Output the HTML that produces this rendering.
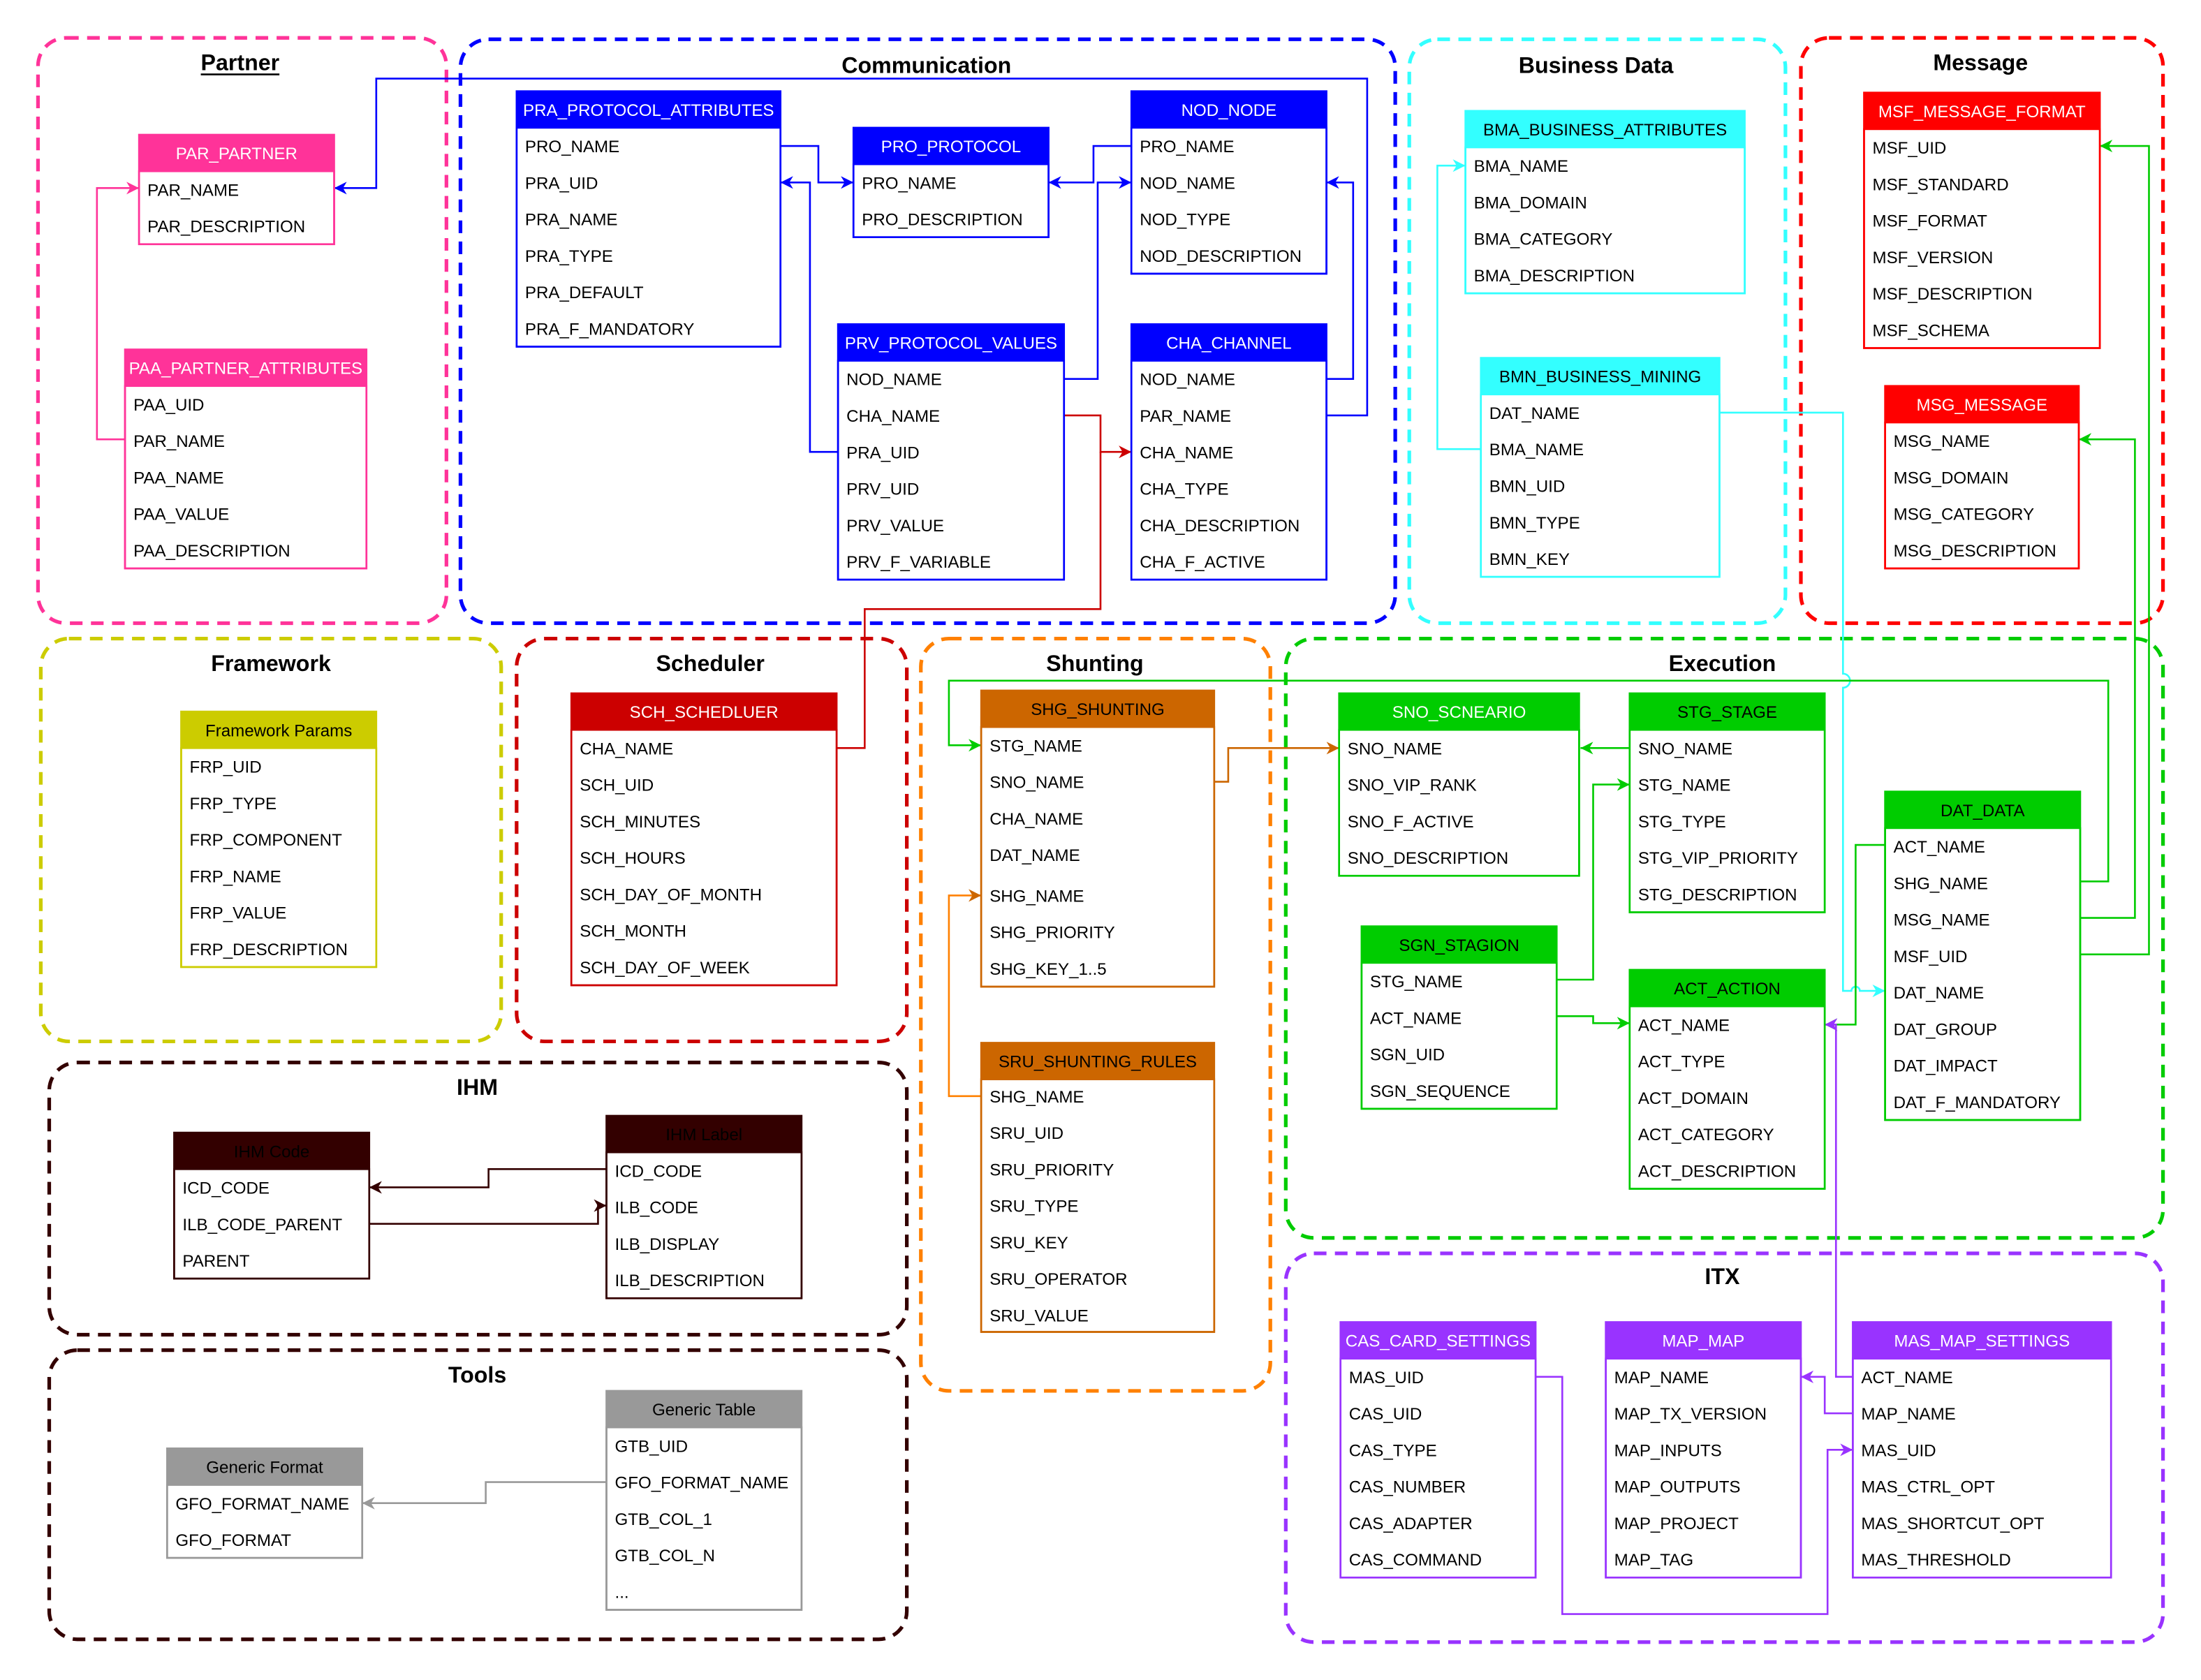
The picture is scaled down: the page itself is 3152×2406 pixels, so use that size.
<!DOCTYPE html>
<html><head><meta charset="utf-8"><style>
html,body{margin:0;padding:0;background:#fff;}
svg{display:block;}
text{font-family:"Liberation Sans",Arial,sans-serif;font-size:12px;fill:#000;}
.t{font-weight:bold;font-size:16px;text-anchor:middle;}
.h{text-anchor:middle;}
.w{fill:#fff;}
.g{fill:none;stroke-width:2.6;stroke-dasharray:9 6;}
.c{fill:none;stroke-width:1.3;}
</style></head><body>
<svg width="3152" height="2406" viewBox="0 0 1568 1197" xmlns="http://www.w3.org/2000/svg">
<defs>
<marker id="mPink" viewBox="0 0 10 10" refX="10" refY="5" markerWidth="9" markerHeight="9" orient="auto" markerUnits="userSpaceOnUse"><path d="M0,0 L10,5 L0,10 L3,5z" fill="#ff3399"/></marker>
<marker id="mBlue" viewBox="0 0 10 10" refX="10" refY="5" markerWidth="9" markerHeight="9" orient="auto" markerUnits="userSpaceOnUse"><path d="M0,0 L10,5 L0,10 L3,5z" fill="#0000ff"/></marker>
<marker id="mRed" viewBox="0 0 10 10" refX="10" refY="5" markerWidth="9" markerHeight="9" orient="auto" markerUnits="userSpaceOnUse"><path d="M0,0 L10,5 L0,10 L3,5z" fill="#cc0000"/></marker>
<marker id="mCyan" viewBox="0 0 10 10" refX="10" refY="5" markerWidth="9" markerHeight="9" orient="auto" markerUnits="userSpaceOnUse"><path d="M0,0 L10,5 L0,10 L3,5z" fill="#33ffff"/></marker>
<marker id="mGreen" viewBox="0 0 10 10" refX="10" refY="5" markerWidth="9" markerHeight="9" orient="auto" markerUnits="userSpaceOnUse"><path d="M0,0 L10,5 L0,10 L3,5z" fill="#00cc00"/></marker>
<marker id="mOrange" viewBox="0 0 10 10" refX="10" refY="5" markerWidth="9" markerHeight="9" orient="auto" markerUnits="userSpaceOnUse"><path d="M0,0 L10,5 L0,10 L3,5z" fill="#cc6600"/></marker>
<marker id="mPurple" viewBox="0 0 10 10" refX="10" refY="5" markerWidth="9" markerHeight="9" orient="auto" markerUnits="userSpaceOnUse"><path d="M0,0 L10,5 L0,10 L3,5z" fill="#9933ff"/></marker>
<marker id="mDark" viewBox="0 0 10 10" refX="10" refY="5" markerWidth="9" markerHeight="9" orient="auto" markerUnits="userSpaceOnUse"><path d="M0,0 L10,5 L0,10 L3,5z" fill="#330000"/></marker>
<marker id="mGray" viewBox="0 0 10 10" refX="10" refY="5" markerWidth="9" markerHeight="9" orient="auto" markerUnits="userSpaceOnUse"><path d="M0,0 L10,5 L0,10 L3,5z" fill="#999999"/></marker>
</defs>

<!-- Groups -->
<rect class="g" x="27" y="27" width="291" height="417" rx="20" stroke="#ff3399"/>
<rect class="g" x="328" y="28" width="666" height="416" rx="20" stroke="#0000ff"/>
<rect class="g" x="1004" y="28" width="268" height="416" rx="20" stroke="#33ffff"/>
<rect class="g" x="1283" y="27" width="258" height="417" rx="20" stroke="#ff0000"/>
<rect class="g" x="29" y="455" width="328" height="287" rx="20" stroke="#cccc00"/>
<rect class="g" x="368" y="455" width="278" height="287" rx="20" stroke="#cc0000"/>
<rect class="g" x="656" y="455" width="249" height="536" rx="20" stroke="#ff8000"/>
<rect class="g" x="916" y="455" width="625" height="427" rx="20" stroke="#00cc00"/>
<rect class="g" x="35" y="757" width="611" height="194" rx="20" stroke="#330000"/>
<rect class="g" x="35" y="962" width="611" height="206" rx="20" stroke="#330000"/>
<rect class="g" x="916" y="893" width="625" height="277" rx="20" stroke="#9933ff"/>

<text class="t" x="171" y="50">Partner</text>
<line x1="143" y1="53" x2="199" y2="53" stroke="#000" stroke-width="1.3"/>
<text class="t" x="660" y="52">Communication</text>
<text class="t" x="1137" y="52">Business Data</text>
<text class="t" x="1411" y="50">Message</text>
<text class="t" x="193" y="478">Framework</text>
<text class="t" x="506" y="478">Scheduler</text>
<text class="t" x="780" y="478">Shunting</text>
<text class="t" x="1227" y="478">Execution</text>
<text class="t" x="340" y="780">IHM</text>
<text class="t" x="340" y="985">Tools</text>
<text class="t" x="1227" y="915">ITX</text>

<!-- Connectors -->
<g class="c">
<path d="M89,313 H69 V134 H99" stroke="#ff3399" marker-end="url(#mPink)"/>
<path d="M945,296 H974 V56 H268 V134 H238" stroke="#0000ff" marker-end="url(#mBlue)"/>
<path d="M556,104 H583 V130 H608" stroke="#0000ff" marker-end="url(#mBlue)"/>
<path d="M806,104 H779 V130 H747" stroke="#0000ff" marker-end="url(#mBlue)"/>
<path d="M597,322 H577 V130 H556" stroke="#0000ff" marker-end="url(#mBlue)"/>
<path d="M758,270 H782 V130 H806" stroke="#0000ff" marker-end="url(#mBlue)"/>
<path d="M945,270 H964 V130 H945" stroke="#0000ff" marker-end="url(#mBlue)"/>
<path d="M758,296 H784 V322 H806" stroke="#cc0000" marker-end="url(#mRed)"/>
<path d="M596,533 H616 V434 H784 V322" stroke="#cc0000"/>
<path d="M1055,320 H1024 V118 H1044" stroke="#33ffff" marker-end="url(#mCyan)"/>
<path d="M1225,294 H1313 V480 a5,5 0 0 1 0,10 V706 H1319 a3,3 0 0 1 6,0 H1343" stroke="#33ffff" marker-end="url(#mCyan)"/>
<path d="M1482,628 H1502 V485 H676 V531 H699" stroke="#00cc00" marker-end="url(#mGreen)"/>
<path d="M1482,654 H1521 V313 H1481" stroke="#00cc00" marker-end="url(#mGreen)"/>
<path d="M1482,680 H1531 V104 H1496" stroke="#00cc00" marker-end="url(#mGreen)"/>
<path d="M1343,602 H1322 V730 H1300" stroke="#00cc00" marker-end="url(#mGreen)"/>
<path d="M1161,533 H1126" stroke="#00cc00" marker-end="url(#mGreen)"/>
<path d="M1109,698 H1135 V559 H1161" stroke="#00cc00" marker-end="url(#mGreen)"/>
<path d="M1109,724 H1135 V729 H1161" stroke="#00cc00" marker-end="url(#mGreen)"/>
<path d="M865,557 H875 V533 H954" stroke="#cc6600" marker-end="url(#mOrange)"/>
<path d="M699,781 H676 V638 H699" stroke="#ff8000" marker-end="url(#mOrange)"/>
<path d="M1320,981 H1308 V730 H1300" stroke="#9933ff" marker-end="url(#mPurple)"/>
<path d="M1320,1007 H1300 V981 H1283" stroke="#9933ff" marker-end="url(#mPurple)"/>
<path d="M1094,981 H1113 V1150 H1302 V1033 H1320" stroke="#9933ff" marker-end="url(#mPurple)"/>
<path d="M432,833 H348 V846 H263" stroke="#330000" marker-end="url(#mDark)"/>
<path d="M263,872 H426 V859 H432" stroke="#330000" marker-end="url(#mDark)"/>
<path d="M432,1056 H346 V1071 H258" stroke="#999999" marker-end="url(#mGray)"/>
</g>

<!-- Tables -->
<g transform="translate(99,96)"><rect width="139" height="26" fill="#ff3399"/><rect y="26" width="139" height="52" fill="#fff" stroke="#ff3399" stroke-width="1.3"/><rect width="139" height="78" fill="none" stroke="#ff3399" stroke-width="1.3"/>
<text class="h w" x="69.5" y="17.5">PAR_PARTNER</text>
<text x="6" y="43.5">PAR_NAME</text><text x="6" y="69.5">PAR_DESCRIPTION</text></g>
<g transform="translate(89,249)"><rect width="172" height="26" fill="#ff3399"/><rect y="26" width="172" height="130" fill="#fff" stroke="#ff3399" stroke-width="1.3"/><rect width="172" height="156" fill="none" stroke="#ff3399" stroke-width="1.3"/>
<text class="h w" x="86" y="17.5">PAA_PARTNER_ATTRIBUTES</text>
<text x="6" y="43.5">PAA_UID</text><text x="6" y="69.5">PAR_NAME</text><text x="6" y="95.5">PAA_NAME</text><text x="6" y="121.5">PAA_VALUE</text><text x="6" y="147.5">PAA_DESCRIPTION</text></g>

<g transform="translate(368,65)"><rect width="188" height="26" fill="#0000ff"/><rect y="26" width="188" height="156" fill="#fff" stroke="#0000ff" stroke-width="1.3"/><rect width="188" height="182" fill="none" stroke="#0000ff" stroke-width="1.3"/>
<text class="h w" x="94" y="17.5">PRA_PROTOCOL_ATTRIBUTES</text>
<text x="6" y="43.5">PRO_NAME</text><text x="6" y="69.5">PRA_UID</text><text x="6" y="95.5">PRA_NAME</text><text x="6" y="121.5">PRA_TYPE</text><text x="6" y="147.5">PRA_DEFAULT</text><text x="6" y="173.5">PRA_F_MANDATORY</text></g>
<g transform="translate(608,91)"><rect width="139" height="26" fill="#0000ff"/><rect y="26" width="139" height="52" fill="#fff" stroke="#0000ff" stroke-width="1.3"/><rect width="139" height="78" fill="none" stroke="#0000ff" stroke-width="1.3"/>
<text class="h w" x="69.5" y="17.5">PRO_PROTOCOL</text>
<text x="6" y="43.5">PRO_NAME</text><text x="6" y="69.5">PRO_DESCRIPTION</text></g>
<g transform="translate(806,65)"><rect width="139" height="26" fill="#0000ff"/><rect y="26" width="139" height="104" fill="#fff" stroke="#0000ff" stroke-width="1.3"/><rect width="139" height="130" fill="none" stroke="#0000ff" stroke-width="1.3"/>
<text class="h w" x="69.5" y="17.5">NOD_NODE</text>
<text x="6" y="43.5">PRO_NAME</text><text x="6" y="69.5">NOD_NAME</text><text x="6" y="95.5">NOD_TYPE</text><text x="6" y="121.5">NOD_DESCRIPTION</text></g>
<g transform="translate(597,231)"><rect width="161" height="26" fill="#0000ff"/><rect y="26" width="161" height="156" fill="#fff" stroke="#0000ff" stroke-width="1.3"/><rect width="161" height="182" fill="none" stroke="#0000ff" stroke-width="1.3"/>
<text class="h w" x="80.5" y="17.5">PRV_PROTOCOL_VALUES</text>
<text x="6" y="43.5">NOD_NAME</text><text x="6" y="69.5">CHA_NAME</text><text x="6" y="95.5">PRA_UID</text><text x="6" y="121.5">PRV_UID</text><text x="6" y="147.5">PRV_VALUE</text><text x="6" y="173.5">PRV_F_VARIABLE</text></g>
<g transform="translate(806,231)"><rect width="139" height="26" fill="#0000ff"/><rect y="26" width="139" height="156" fill="#fff" stroke="#0000ff" stroke-width="1.3"/><rect width="139" height="182" fill="none" stroke="#0000ff" stroke-width="1.3"/>
<text class="h w" x="69.5" y="17.5">CHA_CHANNEL</text>
<text x="6" y="43.5">NOD_NAME</text><text x="6" y="69.5">PAR_NAME</text><text x="6" y="95.5">CHA_NAME</text><text x="6" y="121.5">CHA_TYPE</text><text x="6" y="147.5">CHA_DESCRIPTION</text><text x="6" y="173.5">CHA_F_ACTIVE</text></g>

<g transform="translate(1044,79)"><rect width="199" height="26" fill="#33ffff"/><rect y="26" width="199" height="104" fill="#fff" stroke="#33ffff" stroke-width="1.3"/><rect width="199" height="130" fill="none" stroke="#33ffff" stroke-width="1.3"/>
<text class="h" x="99.5" y="17.5">BMA_BUSINESS_ATTRIBUTES</text>
<text x="6" y="43.5">BMA_NAME</text><text x="6" y="69.5">BMA_DOMAIN</text><text x="6" y="95.5">BMA_CATEGORY</text><text x="6" y="121.5">BMA_DESCRIPTION</text></g>
<g transform="translate(1055,255)"><rect width="170" height="26" fill="#33ffff"/><rect y="26" width="170" height="130" fill="#fff" stroke="#33ffff" stroke-width="1.3"/><rect width="170" height="156" fill="none" stroke="#33ffff" stroke-width="1.3"/>
<text class="h" x="85" y="17.5">BMN_BUSINESS_MINING</text>
<text x="6" y="43.5">DAT_NAME</text><text x="6" y="69.5">BMA_NAME</text><text x="6" y="95.5">BMN_UID</text><text x="6" y="121.5">BMN_TYPE</text><text x="6" y="147.5">BMN_KEY</text></g>

<g transform="translate(1328,66)"><rect width="168" height="26" fill="#ff0000"/><rect y="26" width="168" height="156" fill="#fff" stroke="#ff0000" stroke-width="1.3"/><rect width="168" height="182" fill="none" stroke="#ff0000" stroke-width="1.3"/>
<text class="h w" x="84" y="17.5">MSF_MESSAGE_FORMAT</text>
<text x="6" y="43.5">MSF_UID</text><text x="6" y="69.5">MSF_STANDARD</text><text x="6" y="95.5">MSF_FORMAT</text><text x="6" y="121.5">MSF_VERSION</text><text x="6" y="147.5">MSF_DESCRIPTION</text><text x="6" y="173.5">MSF_SCHEMA</text></g>
<g transform="translate(1343,275)"><rect width="138" height="26" fill="#ff0000"/><rect y="26" width="138" height="104" fill="#fff" stroke="#ff0000" stroke-width="1.3"/><rect width="138" height="130" fill="none" stroke="#ff0000" stroke-width="1.3"/>
<text class="h w" x="69" y="17.5">MSG_MESSAGE</text>
<text x="6" y="43.5">MSG_NAME</text><text x="6" y="69.5">MSG_DOMAIN</text><text x="6" y="95.5">MSG_CATEGORY</text><text x="6" y="121.5">MSG_DESCRIPTION</text></g>

<g transform="translate(129,507)"><rect width="139" height="26" fill="#cccc00"/><rect y="26" width="139" height="156" fill="#fff" stroke="#cccc00" stroke-width="1.3"/><rect width="139" height="182" fill="none" stroke="#cccc00" stroke-width="1.3"/>
<text class="h" x="69.5" y="17.5">Framework Params</text>
<text x="6" y="43.5">FRP_UID</text><text x="6" y="69.5">FRP_TYPE</text><text x="6" y="95.5">FRP_COMPONENT</text><text x="6" y="121.5">FRP_NAME</text><text x="6" y="147.5">FRP_VALUE</text><text x="6" y="173.5">FRP_DESCRIPTION</text></g>

<g transform="translate(407,494)"><rect width="189" height="26" fill="#cc0000"/><rect y="26" width="189" height="182" fill="#fff" stroke="#cc0000" stroke-width="1.3"/><rect width="189" height="208" fill="none" stroke="#cc0000" stroke-width="1.3"/>
<text class="h w" x="94.5" y="17.5">SCH_SCHEDLUER</text>
<text x="6" y="43.5">CHA_NAME</text><text x="6" y="69.5">SCH_UID</text><text x="6" y="95.5">SCH_MINUTES</text><text x="6" y="121.5">SCH_HOURS</text><text x="6" y="147.5">SCH_DAY_OF_MONTH</text><text x="6" y="173.5">SCH_MONTH</text><text x="6" y="199.5">SCH_DAY_OF_WEEK</text></g>

<g transform="translate(699,492)"><rect width="166" height="26" fill="#cc6600"/><rect y="26" width="166" height="185" fill="#fff" stroke="#cc6600" stroke-width="1.3"/><rect width="166" height="211" fill="none" stroke="#cc6600" stroke-width="1.3"/>
<text class="h" x="83" y="17.5">SHG_SHUNTING</text>
<text x="6" y="43.5">STG_NAME</text><text x="6" y="69.5">SNO_NAME</text><text x="6" y="95.5">CHA_NAME</text><text x="6" y="121.5">DAT_NAME</text><text x="6" y="150.5">SHG_NAME</text><text x="6" y="176.5">SHG_PRIORITY</text><text x="6" y="202.5">SHG_KEY_1..5</text></g>
<g transform="translate(699,743)"><rect width="166" height="26" fill="#cc6600"/><rect y="26" width="166" height="180" fill="#fff" stroke="#cc6600" stroke-width="1.3"/><rect width="166" height="206" fill="none" stroke="#cc6600" stroke-width="1.3"/>
<text class="h" x="83" y="17.5">SRU_SHUNTING_RULES</text>
<text x="6" y="42.5">SHG_NAME</text><text x="6" y="68.5">SRU_UID</text><text x="6" y="94.5">SRU_PRIORITY</text><text x="6" y="120.5">SRU_TYPE</text><text x="6" y="146.5">SRU_KEY</text><text x="6" y="172.5">SRU_OPERATOR</text><text x="6" y="198.5">SRU_VALUE</text></g>

<g transform="translate(954,494)"><rect width="171" height="26" fill="#00cc00"/><rect y="26" width="171" height="104" fill="#fff" stroke="#00cc00" stroke-width="1.3"/><rect width="171" height="130" fill="none" stroke="#00cc00" stroke-width="1.3"/>
<text class="h w" x="85.5" y="17.5">SNO_SCNEARIO</text>
<text x="6" y="43.5">SNO_NAME</text><text x="6" y="69.5">SNO_VIP_RANK</text><text x="6" y="95.5">SNO_F_ACTIVE</text><text x="6" y="121.5">SNO_DESCRIPTION</text></g>
<g transform="translate(1161,494)"><rect width="139" height="26" fill="#00cc00"/><rect y="26" width="139" height="130" fill="#fff" stroke="#00cc00" stroke-width="1.3"/><rect width="139" height="156" fill="none" stroke="#00cc00" stroke-width="1.3"/>
<text class="h" x="69.5" y="17.5">STG_STAGE</text>
<text x="6" y="43.5">SNO_NAME</text><text x="6" y="69.5">STG_NAME</text><text x="6" y="95.5">STG_TYPE</text><text x="6" y="121.5">STG_VIP_PRIORITY</text><text x="6" y="147.5">STG_DESCRIPTION</text></g>
<g transform="translate(1343,564)"><rect width="139" height="26" fill="#00cc00"/><rect y="26" width="139" height="208" fill="#fff" stroke="#00cc00" stroke-width="1.3"/><rect width="139" height="234" fill="none" stroke="#00cc00" stroke-width="1.3"/>
<text class="h" x="69.5" y="17.5">DAT_DATA</text>
<text x="6" y="43.5">ACT_NAME</text><text x="6" y="69.5">SHG_NAME</text><text x="6" y="95.5">MSG_NAME</text><text x="6" y="121.5">MSF_UID</text><text x="6" y="147.5">DAT_NAME</text><text x="6" y="173.5">DAT_GROUP</text><text x="6" y="199.5">DAT_IMPACT</text><text x="6" y="225.5">DAT_F_MANDATORY</text></g>
<g transform="translate(970,660)"><rect width="139" height="26" fill="#00cc00"/><rect y="26" width="139" height="104" fill="#fff" stroke="#00cc00" stroke-width="1.3"/><rect width="139" height="130" fill="none" stroke="#00cc00" stroke-width="1.3"/>
<text class="h" x="69.5" y="17.5">SGN_STAGION</text>
<text x="6" y="43.5">STG_NAME</text><text x="6" y="69.5">ACT_NAME</text><text x="6" y="95.5">SGN_UID</text><text x="6" y="121.5">SGN_SEQUENCE</text></g>
<g transform="translate(1161,691)"><rect width="139" height="26" fill="#00cc00"/><rect y="26" width="139" height="130" fill="#fff" stroke="#00cc00" stroke-width="1.3"/><rect width="139" height="156" fill="none" stroke="#00cc00" stroke-width="1.3"/>
<text class="h" x="69.5" y="17.5">ACT_ACTION</text>
<text x="6" y="43.5">ACT_NAME</text><text x="6" y="69.5">ACT_TYPE</text><text x="6" y="95.5">ACT_DOMAIN</text><text x="6" y="121.5">ACT_CATEGORY</text><text x="6" y="147.5">ACT_DESCRIPTION</text></g>

<g transform="translate(955,942)"><rect width="139" height="26" fill="#9933ff"/><rect y="26" width="139" height="156" fill="#fff" stroke="#9933ff" stroke-width="1.3"/><rect width="139" height="182" fill="none" stroke="#9933ff" stroke-width="1.3"/>
<text class="h w" x="69.5" y="17.5">CAS_CARD_SETTINGS</text>
<text x="6" y="43.5">MAS_UID</text><text x="6" y="69.5">CAS_UID</text><text x="6" y="95.5">CAS_TYPE</text><text x="6" y="121.5">CAS_NUMBER</text><text x="6" y="147.5">CAS_ADAPTER</text><text x="6" y="173.5">CAS_COMMAND</text></g>
<g transform="translate(1144,942)"><rect width="139" height="26" fill="#9933ff"/><rect y="26" width="139" height="156" fill="#fff" stroke="#9933ff" stroke-width="1.3"/><rect width="139" height="182" fill="none" stroke="#9933ff" stroke-width="1.3"/>
<text class="h w" x="69.5" y="17.5">MAP_MAP</text>
<text x="6" y="43.5">MAP_NAME</text><text x="6" y="69.5">MAP_TX_VERSION</text><text x="6" y="95.5">MAP_INPUTS</text><text x="6" y="121.5">MAP_OUTPUTS</text><text x="6" y="147.5">MAP_PROJECT</text><text x="6" y="173.5">MAP_TAG</text></g>
<g transform="translate(1320,942)"><rect width="184" height="26" fill="#9933ff"/><rect y="26" width="184" height="156" fill="#fff" stroke="#9933ff" stroke-width="1.3"/><rect width="184" height="182" fill="none" stroke="#9933ff" stroke-width="1.3"/>
<text class="h w" x="92" y="17.5">MAS_MAP_SETTINGS</text>
<text x="6" y="43.5">ACT_NAME</text><text x="6" y="69.5">MAP_NAME</text><text x="6" y="95.5">MAS_UID</text><text x="6" y="121.5">MAS_CTRL_OPT</text><text x="6" y="147.5">MAS_SHORTCUT_OPT</text><text x="6" y="173.5">MAS_THRESHOLD</text></g>

<g transform="translate(124,807)"><rect width="139" height="26" fill="#330000"/><rect y="26" width="139" height="78" fill="#fff" stroke="#330000" stroke-width="1.3"/><rect width="139" height="104" fill="none" stroke="#330000" stroke-width="1.3"/>
<text class="h" x="69.5" y="17.5">IHM Code</text>
<text x="6" y="43.5">ICD_CODE</text><text x="6" y="69.5">ILB_CODE_PARENT</text><text x="6" y="95.5">PARENT</text></g>
<g transform="translate(432,795)"><rect width="139" height="26" fill="#330000"/><rect y="26" width="139" height="104" fill="#fff" stroke="#330000" stroke-width="1.3"/><rect width="139" height="130" fill="none" stroke="#330000" stroke-width="1.3"/>
<text class="h" x="69.5" y="17.5">IHM Label</text>
<text x="6" y="43.5">ICD_CODE</text><text x="6" y="69.5">ILB_CODE</text><text x="6" y="95.5">ILB_DISPLAY</text><text x="6" y="121.5">ILB_DESCRIPTION</text></g>

<g transform="translate(432,991)"><rect width="139" height="26" fill="#999999"/><rect y="26" width="139" height="130" fill="#fff" stroke="#999999" stroke-width="1.3"/><rect width="139" height="156" fill="none" stroke="#999999" stroke-width="1.3"/>
<text class="h" x="69.5" y="17.5">Generic Table</text>
<text x="6" y="43.5">GTB_UID</text><text x="6" y="69.5">GFO_FORMAT_NAME</text><text x="6" y="95.5">GTB_COL_1</text><text x="6" y="121.5">GTB_COL_N</text><text x="6" y="147.5">...</text></g>
<g transform="translate(119,1032)"><rect width="139" height="26" fill="#999999"/><rect y="26" width="139" height="52" fill="#fff" stroke="#999999" stroke-width="1.3"/><rect width="139" height="78" fill="none" stroke="#999999" stroke-width="1.3"/>
<text class="h" x="69.5" y="17.5">Generic Format</text>
<text x="6" y="43.5">GFO_FORMAT_NAME</text><text x="6" y="69.5">GFO_FORMAT</text></g>
</svg>
</body></html>
